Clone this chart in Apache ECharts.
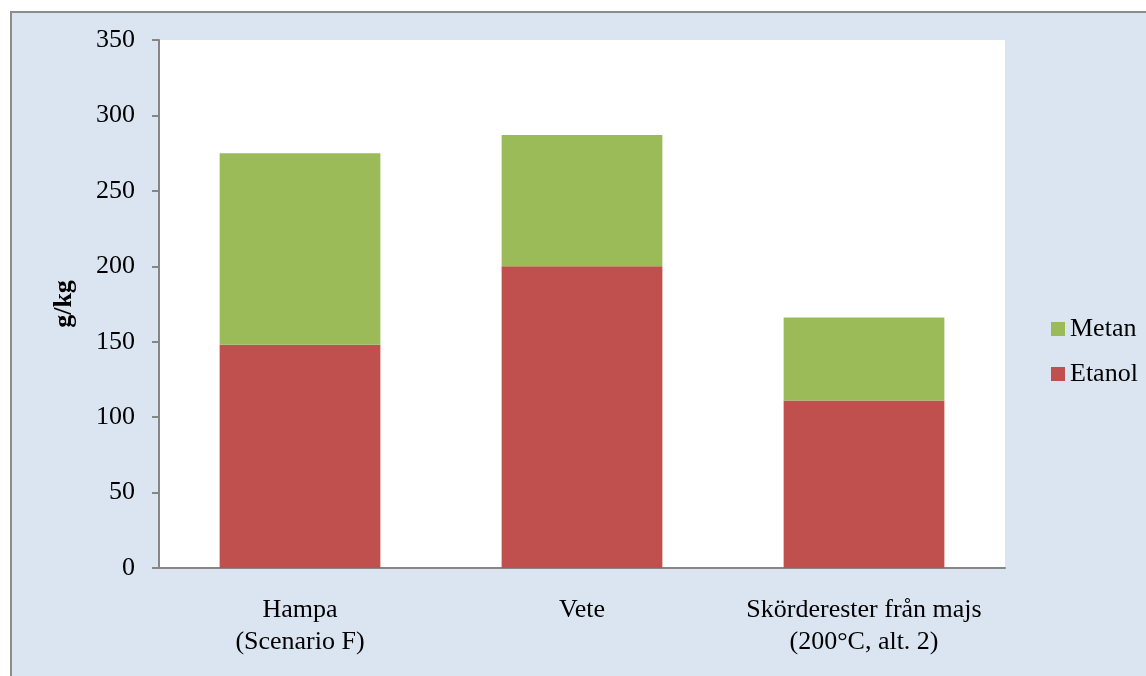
<!DOCTYPE html>
<html>
<head>
<meta charset="utf-8">
<script src="https://cdn.jsdelivr.net/npm/echarts@6/dist/echarts.min.js"></script>
<style>
  html, body { margin: 0; padding: 0; background: #ffffff; }
  #chart { width: 1146px; height: 676px; }
</style>
</head>
<body>
<div id="chart"></div>
<script>
// Yield per kg of feedstock, split by product
const categories = ['Hampa\n(Scenario F)', 'Vete', 'Skörderester från majs\n(200°C, alt. 2)'];
const etanol = [148, 200, 111];
const metan = [127, 87, 55];
const yTicks = { min: 0, max: 350, interval: 50 };

const chart = echarts.init(document.getElementById('chart'), null, { renderer: 'canvas' });
const font = '"Liberation Serif", "Times New Roman", serif';

chart.setOption({
  animation: false,
  backgroundColor: '#ffffff',
  graphic: [{
    type: 'rect',
    z: -10,
    silent: true,
    shape: { x: 11, y: 12, width: 1200, height: 700 },
    style: { fill: '#dbe5f1', stroke: '#8c8c8c', lineWidth: 2 }
  }, {
    type: 'rect',
    z: -9,
    silent: true,
    shape: { x: 159, y: 40, width: 846, height: 528 },
    style: { fill: '#ffffff' }
  }],
  grid: { left: 159, right: 141, top: 40, bottom: 108, containLabel: false },
  legend: {
    data: ['Metan', 'Etanol'],
    orient: 'vertical',
    left: 1046,
    top: 311,
    itemWidth: 14,
    itemHeight: 14,
    itemGap: 19,
    icon: 'rect',
    textStyle: { fontFamily: font, fontSize: 26, color: '#000', lineHeight: 26 }
  },
  xAxis: {
    type: 'category',
    data: categories,
    axisLine: { lineStyle: { color: '#868686', width: 2 } },
    axisTick: { show: false },
    axisLabel: {
      interval: 0,
      hideOverlap: false,
      fontFamily: font, fontSize: 26, color: '#000',
      lineHeight: 32, margin: 26
    }
  },
  yAxis: {
    type: 'value',
    min: yTicks.min, max: yTicks.max, interval: yTicks.interval,
    name: 'g/kg',
    nameLocation: 'middle',
    nameGap: 82,
    nameRotate: 90,
    nameTextStyle: { fontFamily: font, fontSize: 26, fontWeight: 'bold', color: '#000' },
    axisLine: { show: true, lineStyle: { color: '#868686', width: 2 } },
    axisTick: { show: true, length: 7, lineStyle: { color: '#868686', width: 2 } },
    splitLine: { show: false },
    axisLabel: { fontFamily: font, fontSize: 26, color: '#000', margin: 24 }
  },
  series: [{
    name: 'Etanol',
    type: 'bar',
    stack: 'total',
    data: etanol,
    barWidth: '57%',
    itemStyle: { color: '#c0504d' }
  }, {
    name: 'Metan',
    type: 'bar',
    stack: 'total',
    data: metan,
    barWidth: '57%',
    itemStyle: { color: '#9bbb59' }
  }]
});
</script>
</body>
</html>
